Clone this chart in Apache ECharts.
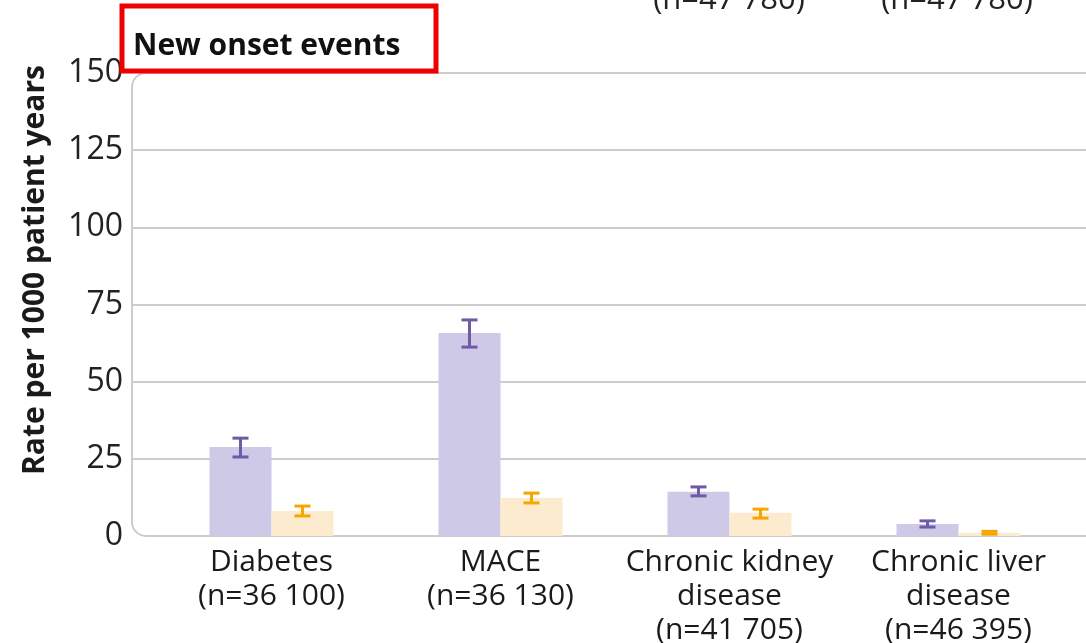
<!DOCTYPE html>
<html><head><meta charset="utf-8">
<script src="https://cdn.jsdelivr.net/npm/echarts@6/dist/echarts.min.js"></script>
<style>html,body{margin:0;padding:0;background:#fff}#c{width:1086px;height:643px}</style>
</head><body><div id="c"></div>
<script>
const categories = ['Diabetes\n(n=36 100)', 'MACE\n(n=36 130)', 'Chronic kidney\ndisease\n(n=41 705)', 'Chronic liver\ndisease\n(n=46 395)'];
const purpleValues = [28.8, 65.8, 14.3, 3.9];
const purpleLow = [25.6, 61.2, 13.0, 2.9];
const purpleHigh = [31.7, 70.0, 15.9, 4.9];
const orangeValues = [8.1, 12.3, 7.5, 1.0];
const orangeLow = [6.5, 10.7, 5.8, 0.6];
const orangeHigh = [9.7, 13.9, 8.7, 1.5];
const yTicks = [0, 25, 50, 75, 100, 125, 150];
const topLabels = ['(n=47 780)', '(n=47 780)'];

const FONT = '"Open Sans", "Noto Sans", sans-serif';
const chart = echarts.init(document.getElementById('c'));

function errSeries(name, low, high, color, offset) {
  return {
    name: name, type: 'custom', xAxisIndex: 1, yAxisIndex: 1, z: 5,
    data: low.map((l, i) => [i, l, high[i]]),
    renderItem: function (params, api) {
      const x = api.value(0);
      const lo = api.coord([x, api.value(1)]);
      const hi = api.coord([x, api.value(2)]);
      const cx = lo[0] + offset;
      const w = 8;
      const st = { stroke: color, lineWidth: 3 };
      return { type: 'group', children: [
        { type: 'line', shape: { x1: cx, y1: hi[1], x2: cx, y2: lo[1] }, style: st },
        { type: 'line', shape: { x1: cx - w, y1: hi[1], x2: cx + w, y2: hi[1] }, style: st },
        { type: 'line', shape: { x1: cx - w, y1: lo[1], x2: cx + w, y2: lo[1] }, style: st }
      ]};
    }
  };
}

const option = {
  animation: false,
  backgroundColor: '#fff',
  textStyle: { fontFamily: FONT },
  grid: [
    { left: 132, top: 73, bottom: 107, right: -60, containLabel: false, outerBoundsMode: 'none' },
    { left: 157, top: 73, bottom: 107, width: 916, containLabel: false, outerBoundsMode: 'none' }
  ],
  xAxis: [
    { gridIndex: 0, type: 'value', min: 0, max: 1, show: false },
    { gridIndex: 1, type: 'category', data: categories,
      axisLine: { show: false }, axisTick: { show: false },
      axisLabel: { margin: 9, fontSize: 30, lineHeight: 34, color: '#1a1a1a', fontFamily: FONT, interval: 0 } }
  ],
  yAxis: [
    { gridIndex: 0, type: 'value', min: yTicks[0], max: yTicks[yTicks.length - 1], interval: 25,
      axisLine: { show: false }, axisTick: { show: false },
      axisLabel: { margin: 9, fontSize: 32, color: '#222', fontFamily: FONT },
      splitLine: { show: true, lineStyle: { width: 2, color: ['rgba(0,0,0,0)', '#cccccc', '#cccccc', '#cccccc', '#cccccc', '#cccccc', 'rgba(0,0,0,0)'] } } },
    { gridIndex: 1, type: 'value', min: 0, max: 150, interval: 25, show: false, splitLine: { show: false } }
  ],
  series: [
    { name: 'A', type: 'bar', xAxisIndex: 1, yAxisIndex: 1, data: purpleValues, barWidth: 62, barGap: '0%',
      itemStyle: { color: '#cdc9e6' } },
    { name: 'B', type: 'bar', xAxisIndex: 1, yAxisIndex: 1, data: orangeValues, barWidth: 62, barGap: '0%',
      itemStyle: { color: '#fdebcf' } },
    errSeries('Aerr', purpleLow, purpleHigh, '#6f5aa8', -31),
    errSeries('Berr', orangeLow, orangeHigh, '#f7a600', 31)
  ],
  graphic: [
    { type: 'rect', z: 1, silent: true, shape: { x: 132, y: 73, width: 1100, height: 463, r: 14 },
      style: { fill: 'none', stroke: '#cccccc', lineWidth: 2 } },
    { type: 'text', x: 133, y: 46, style: { text: 'New onset events', font: 'bold 30px ' + FONT, fill: '#111', textVerticalAlign: 'middle' } },
    { type: 'rect', z: 10, shape: { x: 122, y: 6, width: 314, height: 65 }, style: { fill: 'none', stroke: '#ee0000', lineWidth: 5 } },
    { type: 'text', x: 35, y: 270, rotation: Math.PI / 2,
      style: { text: 'Rate per 1000 patient years', font: 'bold 30px ' + FONT, fill: '#1a1a1a', textAlign: 'center', textVerticalAlign: 'middle' } },
    { type: 'text', x: 729, y: 16, style: { text: topLabels[0], font: '31px ' + FONT, fill: '#222', textAlign: 'center', textVerticalAlign: 'bottom' } },
    { type: 'text', x: 957, y: 16, style: { text: topLabels[1], font: '31px ' + FONT, fill: '#222', textAlign: 'center', textVerticalAlign: 'bottom' } }
  ]
};
chart.setOption(option);
</script>
</body></html>
